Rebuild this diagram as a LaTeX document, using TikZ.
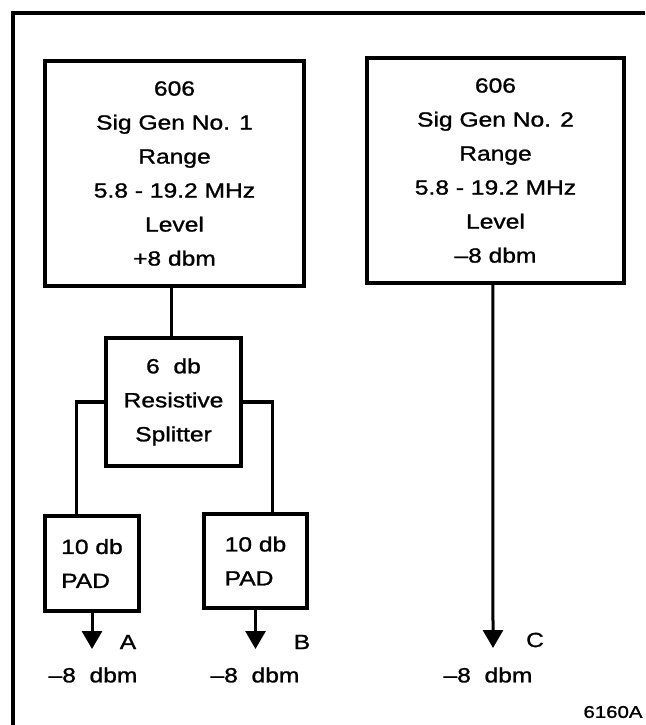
\documentclass[tikz,border=0pt]{standalone}
\usepackage{fontspec}
\setmainfont{Liberation Sans}[FakeStretch=1.2,FakeBold=1.2]
\usetikzlibrary{arrows.meta,calc}
\begin{document}
\begin{tikzpicture}[x=1pt,y=-1pt,
  blk/.style={draw,line width=3.2pt,inner sep=0pt,align=center,font=\fontsize{20.5}{34}\selectfont},
  pad/.style={draw,line width=3.2pt,inner sep=0pt,align=left,font=\fontsize{20.5}{34}\selectfont},
  wire/.style={line width=3.2pt},
  arr/.style={line width=3pt,-{Triangle[length=18pt,width=20pt]}},
  lbl/.style={inner sep=0pt,font=\fontsize{20.5}{24}\selectfont}]
\useasboundingbox (0,0) rectangle (645,725);
% frame
\coordinate (fb) at (13,725);
\coordinate (fc) at (13,13);
\coordinate (fr) at (645,13);
\draw[line width=3.2pt] (fb) -- (fc) -- (fr);
% generators
\node[blk,minimum width=259pt,minimum height=225pt] (g1) at (174.5,173.5)
  {606\\Sig Gen No. 1\\Range\\5.8 - 19.2 MHz\\Level\\+8 dbm};
\node[blk,minimum width=257pt,minimum height=225pt] (g2) at (495.5,170.5)
  {606\\Sig Gen No. 2\\Range\\5.8 - 19.2 MHz\\Level\\–8 dbm};
% splitter
\node[blk,minimum width=135pt,minimum height=128pt] (sp) at (173.5,402)
  {6\ \ db\\Resistive\\Splitter};
% pads
\node[pad,minimum width=94pt,minimum height=95pt] (p1) at (92,563.5)
  {10 db\\PAD};
\node[pad,minimum width=103pt,minimum height=94pt] (p2) at (255.5,561)
  {10 db\\PAD};
% connectors
\coordinate (g1o) at ($(g1.south west)!0.49!(g1.south east)$);
\draw[wire] (g1o) -- (g1o |- sp.north);
\coordinate (p1i) at ($(p1.north west)!0.34!(p1.north east)$);
\coordinate (p2i) at ($(p2.north west)!0.66!(p2.north east)$);
\draw[wire] (sp.west) -| (p1i);
\draw[wire] (sp.east) -| (p2i);
% outputs
\coordinate (ta) at (92,649);
\coordinate (tb) at (255.5,649);
\coordinate (tc) at (493,648);
\coordinate (g2o) at ($(g2.south west)!0.49!(g2.south east)$);
\draw[arr] (p1.south) -- (ta);
\draw[arr] (p2.south) -- (tb);
\draw[arr] (g2o) -- (tc);
% labels
\node[lbl] (la) at (128,642) {A};
\node[lbl] (lb) at (302,642) {B};
\node[lbl] (lc) at (535,640) {C};
\node[lbl] (da) at (93,675) {–8\ \ dbm};
\node[lbl] (db) at (255,675) {–8\ \ dbm};
\node[lbl] (dc) at (488,675) {–8\ \ dbm};
\node[lbl,font=\fontsize{17}{20}\selectfont] (fig) at (613,712) {6160A};
\end{tikzpicture}
\end{document}
